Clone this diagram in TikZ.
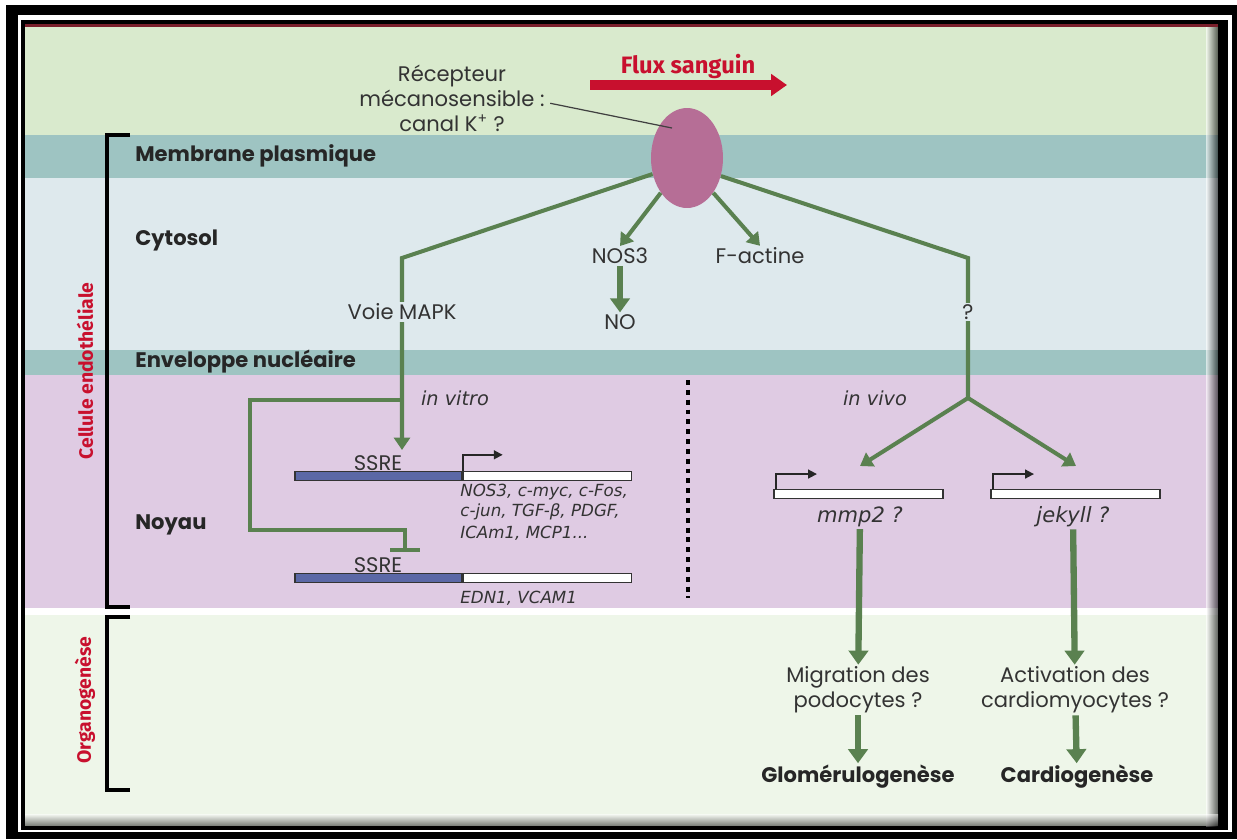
\documentclass[tikz,border=0pt]{standalone}
\usepackage{fontspec}
\setmainfont{Poppins}
\newfontfamily\sidefont{Fira Sans}
\newfontfamily\genefont{DejaVu Sans}
\usetikzlibrary{arrows.meta, positioning, shapes.geometric}
\definecolor{skygreen}{HTML}{D9EACD}
\definecolor{membteal}{HTML}{9EC4C2}
\definecolor{cytoblue}{HTML}{DEE9ED}
\definecolor{nucmauve}{HTML}{DFCBE3}
\definecolor{organgreen}{HTML}{EEF6E9}
\definecolor{darkred}{HTML}{7A1F2B}
\definecolor{recpink}{HTML}{B66E96}
\definecolor{geneblue}{HTML}{5B68A6}
\definecolor{pathgreen}{HTML}{5A8150}
\definecolor{fluxred}{HTML}{C8102E}
\definecolor{txtgray}{HTML}{333333}

\begin{document}
\begin{tikzpicture}[x=0.02cm, y=-0.02cm,
  lbl/.style={font=\fontsize{12}{14.2}\selectfont, text=txtgray, align=center, inner sep=1pt},
  zone/.style={font=\bfseries\fontsize{12}{14}\selectfont, text=black!85, anchor=west, inner sep=0pt},
  side/.style={font=\sidefont\bfseries\fontsize{11}{13}\selectfont, text=fluxred, rotate=90, inner sep=0pt},
  flux/.style={font=\sidefont\bfseries\fontsize{13.5}{15}\selectfont, text=fluxred, inner sep=0pt},
  genetxt/.style={font=\genefont\itshape\fontsize{9.5}{11.5}\selectfont, text=txtgray, anchor=west, inner sep=0pt},
  genebig/.style={font=\genefont\itshape\fontsize{12}{14}\selectfont, text=txtgray, inner sep=1pt},
  cond/.style={font=\genefont\itshape\fontsize{11}{13}\selectfont, text=txtgray, inner sep=1pt},
  result/.style={font=\bfseries\fontsize{12}{14}\selectfont, text=black!85, inner sep=1pt},
  bar/.style={draw=black!80, line width=0.8pt, minimum height=0.18cm, inner sep=0pt},
  path/.style={draw=pathgreen, line width=2.3pt},
  flow/.style={path, -{Triangle[width=9pt,length=7pt]}},
  bigflow/.style={draw=pathgreen, line width=3.6pt, -{Triangle[width=11pt,length=8pt]}},
  inhib/.style={path, -{Bar[width=17pt]}},
  tss/.style={draw=black!85, line width=1pt, -{Triangle[width=5pt,length=5pt]}},
  bracket/.style={draw=black, line width=2pt},
]
  \useasboundingbox (0,0) rectangle (1237,839);
  % frame
  \fill[white] (0,0) rectangle (1237,839);
  \fill[black] (6,5) rectangle (1237,839);
  \fill[white] (18,15) rectangle (1232,832);
  \fill[black] (21,20) rectangle (1228,830);
  \fill[darkred] (25,24) rectangle (1218,27);
  % bands
  \fill[skygreen] (25,27) rectangle (1218,135);
  \fill[membteal] (25,135) rectangle (1218,178);
  \fill[cytoblue] (25,178) rectangle (1218,350);
  \fill[membteal] (25,350) rectangle (1218,375);
  \fill[nucmauve] (25,375) rectangle (1218,608);
  \fill[white] (25,608) rectangle (1218,615);
  \fill[organgreen] (25,615) rectangle (1218,826);
  \shade[left color=black!0, right color=black, opacity=0.6] (1206,27) rectangle (1218,826);
  \shade[top color=black!0, bottom color=black, opacity=0.5] (25,814) rectangle (1218,826);

  % brackets and side labels
  \draw[bracket] (130,135) -- (107,135) -- (107,607) -- (130,607);
  \draw[bracket] (130,617) -- (107,617) -- (107,790) -- (130,790);
  \node[side] (cell) at (85,371) {Cellule endothéliale};
  \node[side] (orga) at (85,700) {Organogenèse};

  % zone labels
  \node[zone] (memb) at (135,156) {Membrane plasmique};
  \node[zone] (cyto) at (135,240) {Cytosol};
  \node[zone] (env) at (135,362) {Enveloppe nucléaire};
  \node[zone] (noy) at (135,525) {Noyau};

  % receptor and flow
  \node[ellipse, fill=recpink, minimum width=1.44cm, minimum height=2cm, inner sep=0pt] (rec) at (687,158) {};
  \node[lbl] (reclab) at (452,98) {Récepteur\\mécanosensible :\\canal K\textsuperscript{+} ?};
  \coordinate (recpt) at (672,128);
  \draw[black!75, line width=0.7pt] ([xshift=2pt,yshift=-3pt]reclab.east) -- (recpt);
  \node[flux] (fluxlab) at (688,67) {Flux sanguin};
  \coordinate (fluxA) at (590,85);
  \coordinate (fluxB) at (787,85);
  \draw[draw=fluxred, line width=5.5pt, -{Triangle[width=12pt,length=9pt]}] (fluxA) -- (fluxB);

  % cytosol
  \node[lbl] (nos) at (620,256) {NOS3};
  \node[lbl] (no) at (620,322) {NO};
  \node[lbl] (fact) at (760,256) {F-actine};
  \coordinate (mapkturn) at (402,258);
  \coordinate (vivoturn) at (968,258);
  \coordinate (vitrosplit) at (402,400);
  \coordinate (vivosplit) at (968,398);
  \draw[flow] (rec.233) -- (nos.north);
  \draw[flow] (rec.307) -- (fact.north);
  \draw[bigflow] (nos) -- (no);

  % nucleus, in vitro
  \node[bar, fill=geneblue, minimum width=3.34cm] (g1a) at (378.5,476) {};
  \node[bar, fill=white, minimum width=3.36cm, anchor=west] (g1b) at (g1a.east) {};
  \node[bar, fill=geneblue, minimum width=3.34cm] (g2a) at (378.5,578) {};
  \node[bar, fill=white, minimum width=3.36cm, anchor=west] (g2b) at (g2a.east) {};
  \draw[tss] (g1b.north west) -- ++(0,-16) -- ++(40,0);
  \node[lbl, anchor=south, inner sep=0pt] (ssre1) at (378,471) {SSRE};
  \node[lbl, anchor=south, inner sep=0pt] (ssre2) at (378,573) {SSRE};
  \node[genetxt] (list1) at (460,492) {NOS3, c-myc, c-Fos,};
  \node[genetxt] (list2) at (460,512) {c-jun, TGF-β, PDGF,};
  \node[genetxt] (list3) at (460,533) {ICAm1, MCP1...};
  \node[genetxt] (list4) at (460,598) {EDN1, VCAM1};
  \draw[flow] (rec.205) -- (mapkturn) -- ([yshift=3pt]mapkturn |- ssre1.north);
  \node[lbl, fill=cytoblue] (mapk) at (402,312) {Voie MAPK};
  \coordinate (inhA) at (250,400);
  \coordinate (inhB) at (250,530);
  \coordinate (inhC) at (405,530);
  \draw[inhib] (vitrosplit) -- (inhA) -- (inhB) -- (inhC) -- ([yshift=3pt]inhC |- ssre2.north);
  \node[cond] (vitro) at (455,398) {in vitro};

  % separator
  \draw[black, line width=2.8pt, dash pattern=on 2.8pt off 2.8pt] (688,380) -- (688,598);

  % nucleus, in vivo
  \draw[path] (rec.332) -- (vivoturn) -- (vivosplit);
  \node[lbl, fill=cytoblue] (vq) at (968,312) {?};
  \node[cond] (vivo) at (875,398) {in vivo};
  \node[bar, fill=white, minimum width=3.38cm, minimum height=0.17cm] (g3) at (858.5,494) {};
  \node[bar, fill=white, minimum width=3.38cm, minimum height=0.17cm] (g4) at (1075.5,494) {};
  \draw[tss] ([xshift=1.5pt]g3.north west) -- ++(0,-15) -- ++(41,0);
  \draw[tss] ([xshift=1.5pt]g4.north west) -- ++(0,-15) -- ++(41,0);
  \coordinate (mmpin) at (860,466);
  \coordinate (jekin) at (1076,466);
  \draw[flow] (vivosplit) -- (mmpin);
  \draw[flow] (vivosplit) -- (jekin);
  \node[genebig] (mmp) at (860,517) {mmp2 ?};
  \node[genebig] (jek) at (1073,517) {jekyll ?};

  % organogenesis
  \node[lbl] (migr) at (858,690) {Migration des\\podocytes ?};
  \node[lbl] (activ) at (1075,690) {Activation des\\cardiomyocytes ?};
  \node[result] (glom) at (858,777) {Glomérulogenèse};
  \node[result] (cardio) at (1077,777) {Cardiogenèse};
  \draw[bigflow] (mmp) -- (migr);
  \draw[bigflow] (jek) -- (activ);
  \draw[bigflow] (migr) -- (glom);
  \draw[bigflow] (activ) -- (cardio);
\end{tikzpicture}
\end{document}
